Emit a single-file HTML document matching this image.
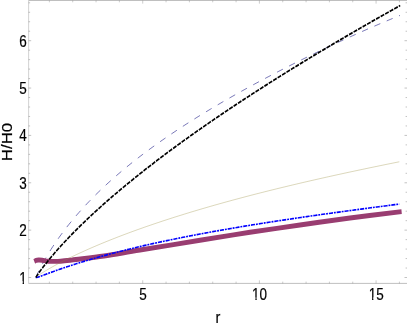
<!DOCTYPE html>
<html><head><meta charset="utf-8"><title>plot</title>
<style>
html,body{margin:0;padding:0;background:#fff;}
body{width:407px;height:327px;overflow:hidden;font-family:"Liberation Sans",sans-serif;}
svg{display:block;}
text{font-family:"Liberation Sans",sans-serif;font-size:14.5px;fill:#000;stroke:#000;stroke-width:0.2px;}
</style></head><body>
<svg width="407" height="327" viewBox="0 0 407 327">
<rect width="407" height="327" fill="#fff"/>
<g transform="scale(1,1.2)" fill="none">
<g stroke="#666">
<path d="M28.6,0.42H407.7M28.6,236.17H407.7" stroke-width="0.38"/>
<path d="M28.6,0.42V236.17" stroke-width="0.27"/>
<path d="M28.6,231.25h2.6M407.7,231.25h-3.2M28.6,223.36h1.5M407.7,223.36h-2.1M28.6,215.46h1.5M407.7,215.46h-2.1M28.6,207.57h1.5M407.7,207.57h-2.1M28.6,199.68h1.5M407.7,199.68h-2.1M28.6,191.78h2.6M407.7,191.78h-3.2M28.6,183.89h1.5M407.7,183.89h-2.1M28.6,176.00h1.5M407.7,176.00h-2.1M28.6,168.10h1.5M407.7,168.10h-2.1M28.6,160.21h1.5M407.7,160.21h-2.1M28.6,152.32h2.6M407.7,152.32h-3.2M28.6,144.42h1.5M407.7,144.42h-2.1M28.6,136.53h1.5M407.7,136.53h-2.1M28.6,128.64h1.5M407.7,128.64h-2.1M28.6,120.74h1.5M407.7,120.74h-2.1M28.6,112.85h2.6M407.7,112.85h-3.2M28.6,104.96h1.5M407.7,104.96h-2.1M28.6,97.06h1.5M407.7,97.06h-2.1M28.6,89.17h1.5M407.7,89.17h-2.1M28.6,81.28h1.5M407.7,81.28h-2.1M28.6,73.38h2.6M407.7,73.38h-3.2M28.6,65.49h1.5M407.7,65.49h-2.1M28.6,57.60h1.5M407.7,57.60h-2.1M28.6,49.70h1.5M407.7,49.70h-2.1M28.6,41.81h1.5M407.7,41.81h-2.1M28.6,33.92h2.6M407.7,33.92h-3.2M28.6,26.02h1.5M407.7,26.02h-2.1M28.6,18.13h1.5M407.7,18.13h-2.1M28.6,10.24h1.5M407.7,10.24h-2.1M28.6,2.34h1.5M407.7,2.34h-2.1" stroke-width="0.36"/>
<path d="M49.39,236.17v-1.5M49.39,0.42v1.5M72.72,236.17v-1.5M72.72,0.42v1.5M96.05,236.17v-1.5M96.05,0.42v1.5M119.39,236.17v-1.5M119.39,0.42v1.5M142.73,236.17v-2.6M142.73,0.42v2.6M166.06,236.17v-1.5M166.06,0.42v1.5M189.40,236.17v-1.5M189.40,0.42v1.5M212.73,236.17v-1.5M212.73,0.42v1.5M236.07,236.17v-1.5M236.07,0.42v1.5M259.40,236.17v-2.6M259.40,0.42v2.6M282.74,236.17v-1.5M282.74,0.42v1.5M306.07,236.17v-1.5M306.07,0.42v1.5M329.41,236.17v-1.5M329.41,0.42v1.5M352.74,236.17v-1.5M352.74,0.42v1.5M376.08,236.17v-2.6M376.08,0.42v2.6M399.41,236.17v-1.5M399.41,0.42v1.5" stroke-width="0.3"/>
</g>
<g stroke-linejoin="round">
<path d="M35.9,231.17 L36.4,230.19 L36.9,229.24 L37.4,228.32 L37.9,227.42 L38.4,226.55 L38.9,225.68 L39.4,224.84 L39.9,224.00 L40.4,223.18 L40.9,222.37 L41.4,221.57 L41.9,220.79 L42.4,220.01 L42.9,219.24 L43.4,218.48 L43.9,217.73 L44.4,216.99 L44.9,216.25 L45.4,215.53 L45.9,214.81 L46.9,213.39 L48.9,210.63 L50.9,207.96 L52.9,205.38 L54.9,202.87 L56.9,200.44 L58.9,198.07 L60.9,195.76 L62.9,193.51 L64.9,191.31 L66.9,189.15 L68.9,187.05 L70.9,184.99 L72.9,182.97 L74.9,180.99 L76.9,179.04 L78.9,177.14 L80.9,175.26 L82.9,173.42 L84.9,171.61 L86.9,169.83 L88.9,168.08 L90.9,166.36 L92.9,164.66 L94.9,162.99 L96.9,161.34 L98.9,159.71 L100.9,158.11 L102.9,156.53 L104.9,154.97 L106.9,153.43 L108.9,151.91 L110.9,150.41 L112.9,148.93 L114.9,147.47 L116.9,146.02 L118.9,144.59 L120.9,143.17 L122.9,141.77 L124.9,140.39 L126.9,139.02 L128.9,137.67 L130.9,136.32 L132.9,135.00 L134.9,133.68 L136.9,132.38 L138.9,131.09 L140.9,129.81 L142.9,128.55 L144.9,127.29 L146.9,126.05 L148.9,124.81 L150.9,123.59 L152.9,122.38 L154.9,121.18 L156.9,119.99 L158.9,118.80 L160.9,117.63 L162.9,116.46 L164.9,115.31 L166.9,114.16 L168.9,113.02 L170.9,111.89 L172.9,110.77 L174.9,109.65 L176.9,108.54 L178.9,107.44 L180.9,106.35 L182.9,105.27 L184.9,104.19 L186.9,103.11 L188.9,102.05 L190.9,100.99 L192.9,99.94 L194.9,98.89 L196.9,97.85 L198.9,96.82 L200.9,95.79 L202.9,94.77 L204.9,93.75 L206.9,92.74 L208.9,91.74 L210.9,90.73 L212.9,89.74 L214.9,88.75 L216.9,87.77 L218.9,86.79 L220.9,85.81 L222.9,84.84 L224.9,83.88 L226.9,82.91 L228.9,81.96 L230.9,81.01 L232.9,80.06 L234.9,79.12 L236.9,78.18 L238.9,77.24 L240.9,76.31 L242.9,75.39 L244.9,74.47 L246.9,73.55 L248.9,72.63 L250.9,71.72 L252.9,70.82 L254.9,69.91 L256.9,69.01 L258.9,68.12 L260.9,67.23 L262.9,66.34 L264.9,65.46 L266.9,64.57 L268.9,63.70 L270.9,62.82 L272.9,61.95 L274.9,61.08 L276.9,60.22 L278.9,59.36 L280.9,58.50 L282.9,57.65 L284.9,56.80 L286.9,55.95 L288.9,55.11 L290.9,54.26 L292.9,53.43 L294.9,52.59 L296.9,51.76 L298.9,50.93 L300.9,50.11 L302.9,49.28 L304.9,48.46 L306.9,47.65 L308.9,46.83 L310.9,46.02 L312.9,45.21 L314.9,44.41 L316.9,43.61 L318.9,42.81 L320.9,42.01 L322.9,41.22 L324.9,40.43 L326.9,39.64 L328.9,38.86 L330.9,38.08 L332.9,37.30 L334.9,36.52 L336.9,35.75 L338.9,34.98 L340.9,34.21 L342.9,33.45 L344.9,32.69 L346.9,31.93 L348.9,31.17 L350.9,30.42 L352.9,29.67 L354.9,28.92 L356.9,28.18 L358.9,27.44 L360.9,26.70 L362.9,25.96 L364.9,25.23 L366.9,24.50 L368.9,23.77 L370.9,23.05 L372.9,22.33 L374.9,21.61 L376.9,20.90 L378.9,20.18 L380.9,19.48 L382.9,18.77 L384.9,18.07 L386.9,17.37 L388.9,16.67 L390.9,15.97 L392.9,15.28 L394.9,14.60 L396.9,13.91 L398.9,13.23 L400.0,12.86" stroke="#3f3d99" stroke-width="0.64" stroke-dasharray="6.3 6.77"/>
<path d="M34.3,217.83 C34.6,217.69 35.3,217.19 36.0,217.00 C36.7,216.81 37.5,216.69 38.5,216.67 C39.5,216.64 40.6,216.67 42.2,216.83 C43.8,217.00 46.2,217.50 48.3,217.67 C50.3,217.83 52.5,217.83 54.5,217.83 C56.5,217.83 58.0,217.82 60.6,217.67 C63.2,217.51 67.4,217.15 70.0,216.92 C72.6,216.68 70.3,216.85 76.0,216.25 C81.7,215.65 93.3,214.65 104.0,213.33 C114.7,212.01 124.0,210.51 140.0,208.33 C156.0,206.15 181.7,202.71 200.0,200.25 C218.3,197.79 233.3,195.71 250.0,193.58 C266.7,191.46 283.3,189.49 300.0,187.50 C316.7,185.51 333.1,183.53 350.0,181.67 C366.9,179.81 393.0,177.22 401.6,176.33" stroke="#993d71" stroke-width="4.1"/>
<path d="M35.9,231.17 L36.4,230.74 L36.9,230.41 L37.4,230.10 L37.9,229.80 L38.4,229.50 L38.9,229.21 L39.4,228.93 L39.9,228.65 L40.4,228.37 L40.9,228.10 L41.4,227.83 L41.9,227.57 L42.4,227.30 L42.9,227.04 L43.4,226.78 L43.9,226.52 L44.4,226.27 L44.9,226.01 L45.4,225.76 L45.9,225.51 L46.9,225.01 L48.9,224.04 L50.9,223.09 L52.9,222.15 L54.9,221.23 L56.9,220.33 L58.9,219.45 L60.9,218.57 L62.9,217.71 L64.9,216.86 L66.9,216.03 L68.9,215.20 L70.9,214.39 L72.9,213.58 L74.9,212.79 L76.9,212.00 L78.9,211.22 L80.9,210.45 L82.9,209.69 L84.9,208.94 L86.9,208.20 L88.9,207.46 L90.9,206.73 L92.9,206.01 L94.9,205.29 L96.9,204.58 L98.9,203.88 L100.9,203.18 L102.9,202.49 L104.9,201.81 L106.9,201.13 L108.9,200.46 L110.9,199.79 L112.9,199.13 L114.9,198.48 L116.9,197.83 L118.9,197.18 L120.9,196.54 L122.9,195.91 L124.9,195.28 L126.9,194.65 L128.9,194.03 L130.9,193.42 L132.9,192.81 L134.9,192.20 L136.9,191.60 L138.9,191.00 L140.9,190.41 L142.9,189.82 L144.9,189.23 L146.9,188.65 L148.9,188.08 L150.9,187.50 L152.9,186.93 L154.9,186.37 L156.9,185.81 L158.9,185.25 L160.9,184.69 L162.9,184.14 L164.9,183.59 L166.9,183.05 L168.9,182.51 L170.9,181.97 L172.9,181.44 L174.9,180.91 L176.9,180.38 L178.9,179.86 L180.9,179.34 L182.9,178.82 L184.9,178.30 L186.9,177.79 L188.9,177.28 L190.9,176.77 L192.9,176.27 L194.9,175.77 L196.9,175.27 L198.9,174.78 L200.9,174.29 L202.9,173.80 L204.9,173.31 L206.9,172.83 L208.9,172.34 L210.9,171.86 L212.9,171.39 L214.9,170.91 L216.9,170.44 L218.9,169.97 L220.9,169.51 L222.9,169.04 L224.9,168.58 L226.9,168.12 L228.9,167.66 L230.9,167.21 L232.9,166.75 L234.9,166.30 L236.9,165.85 L238.9,165.41 L240.9,164.96 L242.9,164.52 L244.9,164.08 L246.9,163.64 L248.9,163.21 L250.9,162.77 L252.9,162.34 L254.9,161.91 L256.9,161.48 L258.9,161.06 L260.9,160.63 L262.9,160.21 L264.9,159.79 L266.9,159.37 L268.9,158.95 L270.9,158.54 L272.9,158.12 L274.9,157.71 L276.9,157.30 L278.9,156.89 L280.9,156.49 L282.9,156.08 L284.9,155.68 L286.9,155.28 L288.9,154.88 L290.9,154.48 L292.9,154.08 L294.9,153.69 L296.9,153.29 L298.9,152.90 L300.9,152.51 L302.9,152.12 L304.9,151.73 L306.9,151.35 L308.9,150.96 L310.9,150.58 L312.9,150.20 L314.9,149.82 L316.9,149.44 L318.9,149.06 L320.9,148.68 L322.9,148.31 L324.9,147.93 L326.9,147.56 L328.9,147.19 L330.9,146.82 L332.9,146.45 L334.9,146.08 L336.9,145.71 L338.9,145.35 L340.9,144.99 L342.9,144.62 L344.9,144.26 L346.9,143.90 L348.9,143.54 L350.9,143.18 L352.9,142.83 L354.9,142.47 L356.9,142.11 L358.9,141.76 L360.9,141.41 L362.9,141.06 L364.9,140.71 L366.9,140.36 L368.9,140.01 L370.9,139.66 L372.9,139.31 L374.9,138.97 L376.9,138.62 L378.9,138.28 L380.9,137.94 L382.9,137.59 L384.9,137.25 L386.9,136.91 L388.9,136.57 L390.9,136.24 L392.9,135.90 L394.9,135.56 L396.9,135.23 L398.9,134.89 L399.3,134.82" stroke="#998b3d" stroke-width="0.32"/>
<path d="M35.9,231.17 L36.4,231.30 L36.9,231.22 L37.4,231.11 L37.9,230.98 L38.4,230.84 L38.9,230.70 L39.4,230.56 L39.9,230.41 L40.4,230.26 L40.9,230.10 L41.4,229.95 L41.9,229.80 L42.4,229.64 L42.9,229.49 L43.4,229.33 L43.9,229.18 L44.4,229.02 L44.9,228.86 L45.4,228.71 L45.9,228.55 L46.9,228.24 L48.9,227.62 L50.9,227.01 L52.9,226.40 L54.9,225.80 L56.9,225.21 L58.9,224.63 L60.9,224.05 L62.9,223.47 L64.9,222.91 L66.9,222.35 L68.9,221.80 L70.9,221.25 L72.9,220.71 L74.9,220.17 L76.9,219.65 L78.9,219.12 L80.9,218.61 L82.9,218.10 L84.9,217.59 L86.9,217.09 L88.9,216.60 L90.9,216.11 L92.9,215.62 L94.9,215.15 L96.9,214.67 L98.9,214.20 L100.9,213.74 L102.9,213.28 L104.9,212.82 L106.9,212.37 L108.9,211.92 L110.9,211.48 L112.9,211.04 L114.9,210.60 L116.9,210.17 L118.9,209.74 L120.9,209.32 L122.9,208.90 L124.9,208.48 L126.9,208.07 L128.9,207.66 L130.9,207.26 L132.9,206.86 L134.9,206.46 L136.9,206.06 L138.9,205.67 L140.9,205.28 L142.9,204.90 L144.9,204.51 L146.9,204.13 L148.9,203.76 L150.9,203.39 L152.9,203.01 L154.9,202.65 L156.9,202.28 L158.9,201.92 L160.9,201.56 L162.9,201.20 L164.9,200.85 L166.9,200.50 L168.9,200.15 L170.9,199.80 L172.9,199.46 L174.9,199.12 L176.9,198.78 L178.9,198.44 L180.9,198.11 L182.9,197.77 L184.9,197.45 L186.9,197.12 L188.9,196.79 L190.9,196.47 L192.9,196.15 L194.9,195.83 L196.9,195.51 L198.9,195.20 L200.9,194.88 L202.9,194.57 L204.9,194.26 L206.9,193.96 L208.9,193.65 L210.9,193.35 L212.9,193.04 L214.9,192.75 L216.9,192.45 L218.9,192.15 L220.9,191.86 L222.9,191.56 L224.9,191.27 L226.9,190.98 L228.9,190.69 L230.9,190.41 L232.9,190.12 L234.9,189.84 L236.9,189.56 L238.9,189.28 L240.9,189.00 L242.9,188.72 L244.9,188.44 L246.9,188.17 L248.9,187.90 L250.9,187.63 L252.9,187.35 L254.9,187.09 L256.9,186.82 L258.9,186.55 L260.9,186.29 L262.9,186.02 L264.9,185.76 L266.9,185.50 L268.9,185.24 L270.9,184.98 L272.9,184.72 L274.9,184.46 L276.9,184.21 L278.9,183.95 L280.9,183.70 L282.9,183.45 L284.9,183.19 L286.9,182.94 L288.9,182.69 L290.9,182.45 L292.9,182.20 L294.9,181.95 L296.9,181.71 L298.9,181.46 L300.9,181.22 L302.9,180.98 L304.9,180.73 L306.9,180.49 L308.9,180.25 L310.9,180.01 L312.9,179.77 L314.9,179.54 L316.9,179.30 L318.9,179.06 L320.9,178.83 L322.9,178.59 L324.9,178.36 L326.9,178.13 L328.9,177.89 L330.9,177.66 L332.9,177.43 L334.9,177.20 L336.9,176.97 L338.9,176.74 L340.9,176.51 L342.9,176.29 L344.9,176.06 L346.9,175.83 L348.9,175.61 L350.9,175.38 L352.9,175.16 L354.9,174.93 L356.9,174.71 L358.9,174.48 L360.9,174.26 L362.9,174.04 L364.9,173.82 L366.9,173.60 L368.9,173.38 L370.9,173.16 L372.9,172.94 L374.9,172.72 L376.9,172.50 L378.9,172.28 L380.9,172.06 L382.9,171.84 L384.9,171.63 L386.9,171.41 L388.9,171.19 L390.9,170.98 L392.9,170.76 L394.9,170.54 L396.9,170.33 L398.9,170.11 L399.3,170.07" stroke="#0000ff" stroke-width="1.35" stroke-dasharray="4.1 0.95 1.85 0.95"/>
<path d="M35.9,231.17 L36.4,230.44 L36.9,229.78 L37.4,229.15 L37.9,228.54 L38.4,227.93 L38.9,227.34 L39.4,226.75 L39.9,226.17 L40.4,225.59 L40.9,225.02 L41.4,224.46 L41.9,223.90 L42.4,223.35 L42.9,222.80 L43.4,222.26 L43.9,221.72 L44.4,221.18 L44.9,220.65 L45.4,220.12 L45.9,219.59 L46.9,218.55 L48.9,216.50 L50.9,214.49 L52.9,212.52 L54.9,210.59 L56.9,208.69 L58.9,206.82 L60.9,204.97 L62.9,203.15 L64.9,201.36 L66.9,199.59 L68.9,197.84 L70.9,196.12 L72.9,194.41 L74.9,192.72 L76.9,191.05 L78.9,189.40 L80.9,187.76 L82.9,186.14 L84.9,184.53 L86.9,182.94 L88.9,181.37 L90.9,179.80 L92.9,178.25 L94.9,176.72 L96.9,175.19 L98.9,173.68 L100.9,172.18 L102.9,170.69 L104.9,169.21 L106.9,167.74 L108.9,166.28 L110.9,164.84 L112.9,163.40 L114.9,161.97 L116.9,160.55 L118.9,159.14 L120.9,157.74 L122.9,156.35 L124.9,154.96 L126.9,153.59 L128.9,152.22 L130.9,150.86 L132.9,149.50 L134.9,148.16 L136.9,146.82 L138.9,145.49 L140.9,144.17 L142.9,142.85 L144.9,141.54 L146.9,140.23 L148.9,138.94 L150.9,137.65 L152.9,136.36 L154.9,135.08 L156.9,133.81 L158.9,132.54 L160.9,131.28 L162.9,130.02 L164.9,128.77 L166.9,127.53 L168.9,126.29 L170.9,125.05 L172.9,123.82 L174.9,122.60 L176.9,121.38 L178.9,120.16 L180.9,118.95 L182.9,117.74 L184.9,116.54 L186.9,115.35 L188.9,114.15 L190.9,112.97 L192.9,111.78 L194.9,110.60 L196.9,109.43 L198.9,108.26 L200.9,107.09 L202.9,105.93 L204.9,104.77 L206.9,103.61 L208.9,102.46 L210.9,101.31 L212.9,100.17 L214.9,99.03 L216.9,97.89 L218.9,96.76 L220.9,95.63 L222.9,94.50 L224.9,93.38 L226.9,92.26 L228.9,91.14 L230.9,90.03 L232.9,88.92 L234.9,87.81 L236.9,86.71 L238.9,85.61 L240.9,84.51 L242.9,83.41 L244.9,82.32 L246.9,81.23 L248.9,80.15 L250.9,79.06 L252.9,77.98 L254.9,76.91 L256.9,75.83 L258.9,74.76 L260.9,73.69 L262.9,72.62 L264.9,71.56 L266.9,70.50 L268.9,69.44 L270.9,68.38 L272.9,67.33 L274.9,66.28 L276.9,65.23 L278.9,64.19 L280.9,63.14 L282.9,62.10 L284.9,61.06 L286.9,60.02 L288.9,58.99 L290.9,57.96 L292.9,56.93 L294.9,55.90 L296.9,54.88 L298.9,53.85 L300.9,52.83 L302.9,51.81 L304.9,50.80 L306.9,49.78 L308.9,48.77 L310.9,47.76 L312.9,46.75 L314.9,45.75 L316.9,44.75 L318.9,43.74 L320.9,42.74 L322.9,41.75 L324.9,40.75 L326.9,39.76 L328.9,38.77 L330.9,37.78 L332.9,36.79 L334.9,35.80 L336.9,34.82 L338.9,33.84 L340.9,32.86 L342.9,31.88 L344.9,30.90 L346.9,29.93 L348.9,28.96 L350.9,27.99 L352.9,27.02 L354.9,26.05 L356.9,25.09 L358.9,24.12 L360.9,23.16 L362.9,22.20 L364.9,21.24 L366.9,20.29 L368.9,19.33 L370.9,18.38 L372.9,17.43 L374.9,16.48 L376.9,15.53 L378.9,14.59 L380.9,13.64 L382.9,12.70 L384.9,11.76 L386.9,10.82 L388.9,9.88 L390.9,8.95 L392.9,8.01 L394.9,7.08 L396.9,6.15 L398.9,5.22 L400.2,4.62" stroke="#000" stroke-width="1.5" stroke-dasharray="3.9 1.1"/>
</g>
</g>
<g opacity="0.999">
<g transform="translate(26.80,283.50) scale(0.93,1.16)"><text text-anchor="end">1</text><rect x="-8.35" y="-2.00" width="3.86" height="2.60" fill="#fff"/><rect x="-3.07" y="-2.00" width="3.43" height="2.60" fill="#fff"/></g>
<g transform="translate(26.80,236.14) scale(0.93,1.16)"><text text-anchor="end">2</text></g>
<g transform="translate(26.80,188.78) scale(0.93,1.16)"><text text-anchor="end">3</text></g>
<g transform="translate(26.80,141.42) scale(0.93,1.16)"><text text-anchor="end">4</text></g>
<g transform="translate(26.80,94.06) scale(0.93,1.16)"><text text-anchor="end">5</text></g>
<g transform="translate(26.80,46.70) scale(0.93,1.16)"><text text-anchor="end">6</text></g>
<g transform="translate(142.88,299.70) scale(0.93,1.16)"><text text-anchor="middle">5</text></g>
<g transform="translate(259.55,299.70) scale(0.93,1.16)"><text text-anchor="middle">10</text><rect x="-8.35" y="-2.00" width="3.86" height="2.60" fill="#fff"/><rect x="-3.07" y="-2.00" width="3.43" height="2.60" fill="#fff"/></g>
<g transform="translate(376.23,299.70) scale(0.93,1.16)"><text text-anchor="middle">15</text><rect x="-8.35" y="-2.00" width="3.86" height="2.60" fill="#fff"/><rect x="-3.07" y="-2.00" width="3.43" height="2.60" fill="#fff"/></g>
<text transform="translate(218,323) scale(1,1.16)" text-anchor="middle">r</text>
<text transform="translate(12.2,142) rotate(-90) scale(1.16,1)" text-anchor="middle">H/H0</text>
</g>
</svg>
</body></html>
